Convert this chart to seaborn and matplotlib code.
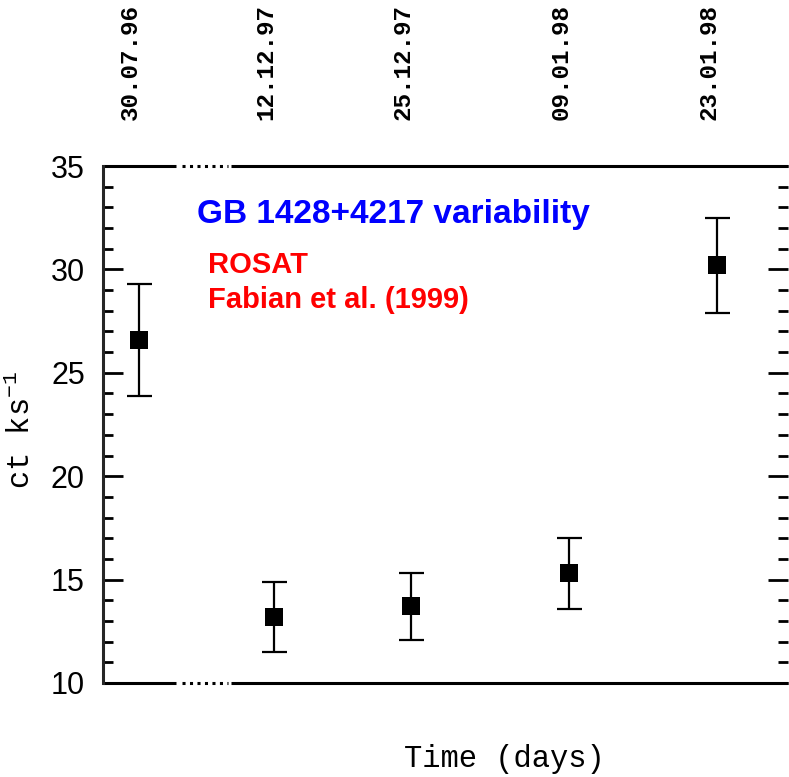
import matplotlib
matplotlib.use("Agg")
import matplotlib.pyplot as plt
import matplotlib.transforms as mtransforms
from matplotlib.ticker import MultipleLocator
import seaborn as sns
import pandas as pd

# Data
dates = ["30.07.96", "12.12.97", "25.12.97", "09.01.98", "23.01.98"]
# days relative to 12.12.97 (first point sits across the axis break)
days = [-12.8, 0, 13, 28, 42]
rate = [26.6, 13.2, 13.7, 15.3, 30.2]
err = [2.7, 1.7, 1.6, 1.7, 2.3]

df = pd.DataFrame({"day": days, "rate": rate, "err": err, "date": dates})

sns.set_style("ticks")
plt.rcParams["mathtext.fontset"] = "custom"
plt.rcParams["mathtext.rm"] = "Liberation Mono"
plt.rcParams["mathtext.default"] = "rm"
plt.rcParams["text.color"] = "black"
plt.rcParams["axes.labelcolor"] = "black"
plt.rcParams["xtick.color"] = "black"
plt.rcParams["ytick.color"] = "black"

fig = plt.figure(figsize=(7.89, 7.77), dpi=100)
ax = fig.add_axes([103/789, 1-683/777, (789-103)/789 - 0.001, (683-166)/777])

ax.errorbar(df["day"], df["rate"], yerr=df["err"], fmt="none", ecolor="black",
            elinewidth=1.6, capsize=9, capthick=1.6, zorder=2)
sns.scatterplot(data=df, x="day", y="rate", marker="s", s=150, color="black",
                edgecolor="black", linewidth=0, ax=ax, zorder=3)

ax.set_xlim(-16.2, 48.8)
ax.set_ylim(10, 35)

# spines
for s in ["top", "bottom", "right"]:
    ax.spines[s].set_visible(False)
ax.spines["left"].set_linewidth(2.2)

# broken top/bottom axis lines
trans = mtransforms.blended_transform_factory(ax.transData, ax.transAxes)
px = 10.57  # pixels per day
x0pix = 274
def d(p):
    return (p - x0pix) / px
for yv in [0, 1]:
    ax.plot([-16.2, d(176)], [yv, yv], color="black", lw=2.2, transform=trans,
            clip_on=False, solid_capstyle="butt")
    ax.plot([d(231), 48.8], [yv, yv], color="black", lw=2.2, transform=trans,
            clip_on=False, solid_capstyle="butt")
    ax.plot([d(182), d(228)], [yv, yv], color="black", lw=2.2,
            linestyle=(0, (1, 1.45)), transform=trans, clip_on=False)

# y ticks
ax.yaxis.set_major_locator(MultipleLocator(5))
ax.yaxis.set_minor_locator(MultipleLocator(1))
ax.tick_params(axis="y", which="major", direction="in", length=14.4, width=2,
               left=True, right=True, labelsize=22, pad=13)
ax.tick_params(axis="y", which="minor", direction="in", length=7.2, width=2,
               left=True, right=True)
for lab in ax.get_yticklabels():
    lab.set_fontfamily("Liberation Sans")

# x ticks on top as rotated date labels
ax.set_xticks(days)
ax.set_xticklabels(dates)
ax.tick_params(axis="x", which="both", bottom=False, top=True, length=0,
               labelbottom=False, labeltop=True, labelsize=17.5, pad=33)
offset = mtransforms.ScaledTranslation(-8/100, 0, fig.dpi_scale_trans)
for lab in ax.get_xticklabels():
    lab.set_rotation(90)
    lab.set_fontfamily("Liberation Mono")
    lab.set_fontweight("bold")
    lab.set_va("bottom")
    lab.set_ha("center")
    lab.set_transform(lab.get_transform() + offset)

ax.set_xlabel("Time (days)", fontsize=22, family="Liberation Mono")
ax.xaxis.set_label_position("bottom")
ax.xaxis.set_label_coords((505-103)/686, -(744-683)/517)
ax.set_ylabel("ct ks$^{-1}$", fontsize=22, family="Liberation Mono")
ax.yaxis.set_label_coords(-(103-37)/686, 0.49)

ax.text((197-103)/686, (683-215)/517, "GB 1428+4217 variability", color="blue",
        fontsize=24, fontweight="bold", family="Liberation Sans",
        transform=ax.transAxes, va="center", ha="left")
ax.text((208-103)/686, (683-265)/517, "ROSAT", color="red",
        fontsize=21, fontweight="bold", family="Liberation Sans",
        transform=ax.transAxes, va="center", ha="left")
ax.text((208-103)/686, (683-300)/517, "Fabian et al. (1999)", color="red",
        fontsize=21, fontweight="bold", family="Liberation Sans",
        transform=ax.transAxes, va="center", ha="left")

fig.savefig("out.png", dpi=100)
